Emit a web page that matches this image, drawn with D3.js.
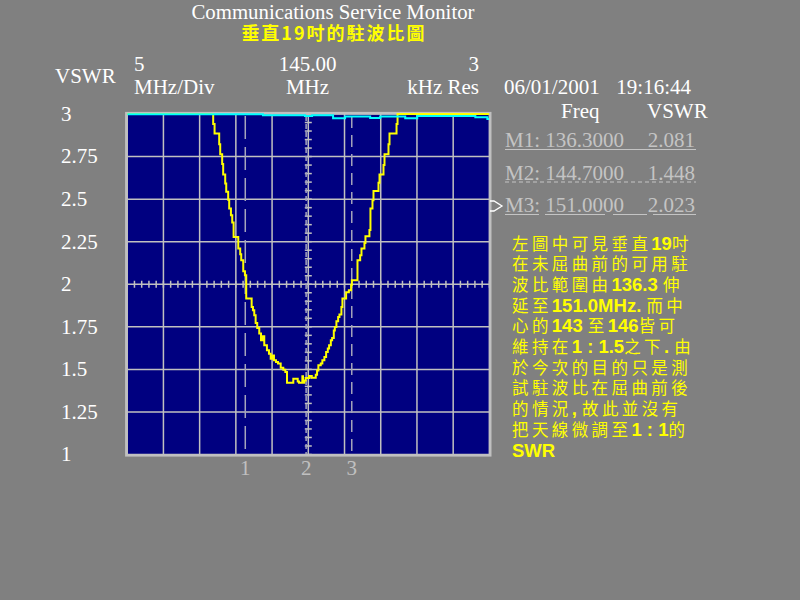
<!DOCTYPE html>
<html><head><meta charset="utf-8">
<script src="https://cdn.jsdelivr.net/npm/d3@7"></script>
<style>html,body{margin:0;padding:0;background:#808080;} svg{display:block;} text{white-space:pre;}</style>
</head><body><svg id="c" width="800" height="600"></svg>
<script>
// ---------- data ----------
const yTicks = [1, 1.25, 1.5, 1.75, 2, 2.25, 2.5, 2.75, 3];
const yTickLabels = ["1", "1.25", "1.5", "1.75", "2", "2.25", "2.5", "2.75", "3"];
const freqDomain = [120, 170];
const centerFreq = 145;

const markerNames = ["M1", "M2", "M3"];
const markerIds = ["1", "2", "3"];
const markerFreqs = [136.3, 144.7, 151.0];
const markerFreqLabels = ["136.3000", "144.7000", "151.0000"];
const markerVswrLabels = ["2.081", "1.448", "2.023"];

const traceFreq = [120, 131.87, 132.06, 132.70, 132.84, 133.11, 133.25, 133.53, 133.67, 133.94, 134.08, 134.32, 134.50, 134.69, 135.33, 135.60, 135.74, 136.02, 136.25, 136.43, 137.18, 137.36, 137.54, 137.73, 137.95, 138.23, 138.47, 138.70, 138.92, 139.29, 139.57, 139.81, 139.99, 140.26, 140.54, 140.82, 141.19, 141.55, 141.83, 142.06, 142.93, 143.54, 143.72, 144.18, 144.27, 144.45, 144.65, 145.10, 145.48, 146.03, 146.21, 146.39, 146.72, 146.94, 147.22, 147.46, 147.69, 147.87, 148.11, 148.29, 148.52, 148.66, 148.88, 149.12, 149.30, 149.57, 149.71, 150.22, 150.60, 150.91, 151.01, 151.79, 152.16, 152.34, 152.75, 152.89, 153.44, 153.58, 153.86, 154.00, 154.69, 154.83, 155.38, 155.52, 156.07, 156.21, 157.18, 157.32, 170];
const traceVswr = [3.0, 2.941, 2.886, 2.822, 2.763, 2.706, 2.645, 2.592, 2.543, 2.496, 2.445, 2.406, 2.363, 2.278, 2.210, 2.176, 2.141, 2.076, 2.053, 1.916, 1.866, 1.847, 1.818, 1.772, 1.743, 1.710, 1.671, 1.694, 1.641, 1.612, 1.592, 1.563, 1.582, 1.553, 1.543, 1.534, 1.510, 1.498, 1.484, 1.422, 1.445, 1.429, 1.422, 1.459, 1.422, 1.435, 1.449, 1.461, 1.451, 1.469, 1.494, 1.524, 1.534, 1.553, 1.572, 1.602, 1.622, 1.641, 1.671, 1.684, 1.729, 1.749, 1.782, 1.808, 1.822, 1.866, 1.916, 1.953, 1.965, 1.994, 2.024, 2.141, 2.171, 2.210, 2.243, 2.282, 2.318, 2.445, 2.494, 2.547, 2.596, 2.645, 2.700, 2.763, 2.822, 2.886, 2.941, 3.0, 3.0];

const refFreq = [120, 138.74, 144.55, 145.52, 148.42, 150.08, 153.54, 154.92, 158.38, 160.04, 168.06, 169.72, 170];
const refVswr = [2.998, 2.993, 2.988, 2.992, 2.975, 2.986, 2.976, 2.986, 2.975, 2.988, 2.981, 2.971, 2.971];

const titleText = "Communications Service Monitor";
const subtitleText = "垂直19吋的駐波比圖";
const spanTop = "5", spanBottom = "MHz/Div";
const centerTop = "145.00", centerBottom = "MHz";
const resTop = "3", resBottom = "kHz Res";
const dateText = "06/01/2001", timeText = "19:16:44";
const noteLines = [
  "左圖中可見垂直19吋",
  "在未屈曲前的可用駐",
  "波比範圍由136.3 伸",
  "延至151.0MHz. 而中",
  "心的143 至146皆可",
  "維持在1 : 1.5之下. 由",
  "於今次的目的只是測",
  "試駐波比在屈曲前後",
  "的情況, 故此並沒有",
  "把天線微調至1 : 1的",
  "SWR"
];

// ---------- drawing ----------
const SERIF = "'Liberation Serif','Times New Roman',serif";
const CJK = "'Noto Sans CJK TC','Noto Sans CJK SC',sans-serif";
const svg = d3.select("#c");
svg.append("rect").attr("width", 800).attr("height", 600).attr("fill", "#808080");

const x = d3.scaleLinear().domain(freqDomain).range([127.2, 489.4]);
const y = d3.scaleLinear().domain([1, 3]).range([454.5, 114]);
const X0 = x(freqDomain[0]), X1 = x(freqDomain[1]), Y0 = y(3), Y1 = y(1);

// plot background
svg.append("rect").attr("x", X0).attr("y", Y0).attr("width", X1 - X0).attr("height", Y1 - Y0).attr("fill", "#000080");

// grid
const grid = svg.append("g").attr("stroke", "#c0c0c0").attr("stroke-width", 1.5);
grid.selectAll(".v").data(x.ticks(10)).join("line")
  .attr("x1", d => x(d)).attr("x2", d => x(d)).attr("y1", Y0).attr("y2", Y1);
grid.selectAll(".h").data(yTicks).join("line")
  .attr("x1", X0).attr("x2", X1).attr("y1", d => y(d)).attr("y2", d => y(d));

// minor ticks on centre lines
const minorF = d3.range(freqDomain[0], freqDomain[1] + 0.001, 1);
grid.selectAll(".mf").data(minorF).join("line")
  .attr("x1", d => x(d)).attr("x2", d => x(d)).attr("y1", y(2) - 3.5).attr("y2", y(2) + 3.5);
const minorV = d3.range(1, 3.001, 0.05);
grid.selectAll(".mv").data(minorV).join("line")
  .attr("x1", x(centerFreq) - 3.5).attr("x2", x(centerFreq) + 3.5).attr("y1", d => y(d)).attr("y2", d => y(d));

// marker dashed lines
const dashes = ["23,8", "5,3", "12,7"];
svg.append("g").selectAll("line").data(markerFreqs).join("line")
  .attr("x1", d => x(d)).attr("x2", d => x(d)).attr("y1", Y0 + 2).attr("y2", Y1)
  .attr("stroke", "#a4a4bc").attr("stroke-width", 1.5)
  .attr("stroke-dasharray", (d, i) => dashes[i]);

// border
svg.append("rect").attr("x", X0 - 0.8).attr("y", Y0 - 0.8).attr("width", X1 - X0 + 1.6).attr("height", Y1 - Y0 + 1.6)
  .attr("fill", "none").attr("stroke", "#c0c0c0").attr("stroke-width", 2.6);

// traces
svg.append("clipPath").attr("id", "clip").append("rect")
  .attr("x", X0).attr("y", Y0 - 1.5).attr("width", X1 - X0).attr("height", Y1 - Y0 + 1.5);
const line = d3.line().x(d => x(d[0])).y(d => y(d[1])).curve(d3.curveStepAfter);
const trace = traceFreq.map((f, i) => [f, traceVswr[i]]);
const ref = refFreq.map((f, i) => [f, refVswr[i]]);
const tg = svg.append("g").attr("clip-path", "url(#clip)");
tg.append("path").datum(trace).attr("d", line).attr("fill", "none").attr("stroke", "#ffff00").attr("stroke-width", 2);
tg.append("path").datum(ref).attr("d", line).attr("fill", "none").attr("stroke", "#00ffff").attr("stroke-width", 2);

// y axis labels
const yAxis = svg.append("g").attr("transform", "translate(61,0)")
  .call(d3.axisLeft(y).tickValues(yTicks).tickFormat((d, i) => yTickLabels[i]).tickSize(0));
yAxis.select(".domain").remove();
yAxis.selectAll("text").attr("x", 0).attr("text-anchor", "start").attr("dy", "0.3em")
  .attr("fill", "#ffffff").attr("font-family", SERIF).attr("font-size", 21);

// marker numbers under the plot
svg.append("g").selectAll("text").data(markerFreqs).join("text")
  .attr("x", d => x(d)).attr("y", 475).attr("text-anchor", "middle")
  .attr("fill", "#c0c0c0").attr("font-family", SERIF).attr("font-size", 21)
  .text((d, i) => markerIds[i]);

// header texts
function txt(s, xx, yy, anchor, color, size, fam) {
  return svg.append("text").attr("x", xx).attr("y", yy).attr("text-anchor", anchor || "start")
    .attr("fill", color || "#fff").attr("font-size", size || 21).attr("font-family", fam || SERIF).text(s);
}
txt(titleText, 333, 18.5, "middle", "#fff", 20.8);
txt(subtitleText, 334, 40, "middle", "#ffff00", 18, CJK).attr("font-weight", "bold").attr("letter-spacing", 2);
txt("VSWR", 55, 83);
txt(spanTop, 134, 71); txt(spanBottom, 134, 94);
txt(centerTop, 307.5, 71, "middle"); txt(centerBottom, 307.5, 94, "middle");
txt(resTop, 479, 71, "end"); txt(resBottom, 479, 94, "end");
txt(dateText, 504, 94); txt(timeText, 691, 94, "end");
txt("Freq", 561, 118); txt("VSWR", 647, 118);

// marker readouts
const mBase = [147, 179.5, 212];
const underDash = [null, "4,3", "34,6,60,8"];
markerNames.forEach((m, i) => {
  txt(m + ": " + markerFreqLabels[i], 505, mBase[i], "start", "#c4c4c4");
  txt(markerVswrLabels[i], 695, mBase[i], "end", "#c4c4c4");
  const u = svg.append("line").attr("x1", 505).attr("x2", 696).attr("y1", mBase[i] + 2.5).attr("y2", mBase[i] + 2.5)
    .attr("stroke", "#c4c4c4").attr("stroke-width", 1);
  if (underDash[i]) u.attr("stroke-dasharray", underDash[i]);
});
// active marker pointer
svg.append("path").attr("d", "M490,201 L494,201 L502,206 L494,211 L490,211")
  .attr("fill", "none").attr("stroke", "#ffffff").attr("stroke-width", 1.3);

// note paragraph
noteLines.forEach((ln, i) => {
  const t = svg.append("text").attr("x", 512).attr("y", 249.5 + i * 20.7).attr("fill", "#ffff00");
  ln.match(/[\x00-\x7F]+|[^\x00-\x7F]+/g).forEach(p => {
    const ascii = /^[\x00-\x7F]/.test(p);
    t.append("tspan").text(p)
      .attr("font-family", ascii ? "'Liberation Sans',Arial,sans-serif" : CJK)
      .attr("font-weight", ascii ? "bold" : "normal")
      .attr("font-size", ascii ? 18.5 : 16.5)
      .attr("letter-spacing", ascii ? 0 : 3.4);
  });
});
</script></body></html>
